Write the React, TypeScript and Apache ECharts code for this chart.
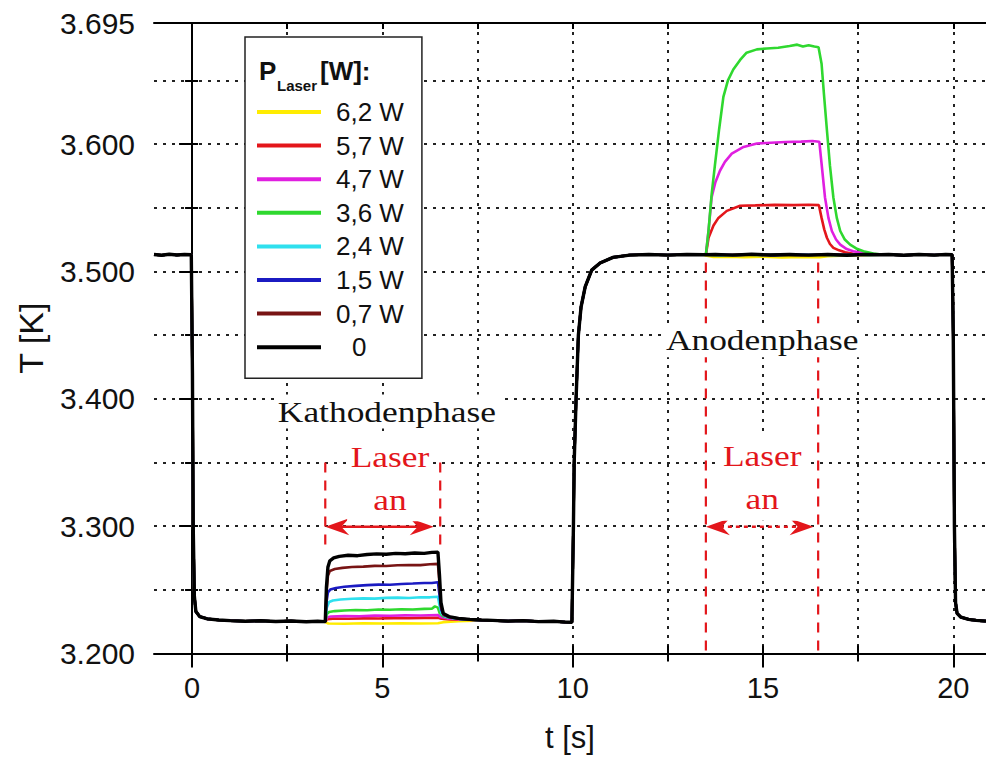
import React, { useEffect, useRef } from 'react';
import * as echarts from 'echarts';

type P = [number, number];

const seriesNames = ['6,2 W', '5,7 W', '4,7 W', '3,6 W', '2,4 W', '1,5 W', '0,7 W', '0'];
const seriesColors = ['#ffec00', '#e3161b', '#e01fe0', '#2fd82f', '#2fe0ee', '#1b1bc2', '#781414', '#000000'];

const xTickValues = [0, 2.5, 5, 7.5, 10, 12.5, 15, 17.5, 20];
const xLabelValues = [0, 5, 10, 15, 20];
const yLabelValues = [3200, 3300, 3400, 3500, 3600, 3695];
const yMajorTickValues = [3200, 3300, 3400, 3500, 3600];

// common trace (all powers overlap)
const commonStart: P[] = [[-1, 3513.2], [-0.8, 3512.7], [-0.6, 3513.4], [-0.4, 3512.9], [-0.2, 3513.3], [-0.02, 3513], [0.01, 3420], [0.03, 3300], [0.06, 3245], [0.1, 3233], [0.2, 3229], [0.4, 3227.2], [0.7, 3226.3], [1.0, 3225.8], [1.4, 3225.3], [1.8, 3225.7], [2.2, 3225.1], [2.6, 3225.5], [3.0, 3224.9], [3.3, 3225.3], [3.48, 3225]];
const commonMid: P[] = [[7.9, 3226], [8.3, 3225.4], [8.7, 3225.8], [9.1, 3225], [9.5, 3225.3], [9.8, 3224.6], [9.98, 3224.5], [10.02, 3300], [10.04, 3350], [10.09, 3400], [10.15, 3450], [10.22, 3472], [10.33, 3488], [10.5, 3501], [10.72, 3506.6], [11.06, 3511], [11.5, 3512.8], [12.0, 3513.3], [12.5, 3512.8], [13.0, 3513.2], [13.45, 3513]];
const commonEnd: P[] = [[18.3, 3513.2], [18.7, 3512.7], [19.1, 3513.3], [19.5, 3512.8], [19.8, 3513.3], [19.97, 3513], [20.0, 3450], [20.03, 3300], [20.06, 3240], [20.1, 3231.5], [20.2, 3228.5], [20.4, 3226.8], [20.6, 3226], [20.86, 3225.4]];

// cathode phase (laser on 3.5 s – 6.5 s)
const cathodeYellow: P[] = [[3.5, 3224.6], [3.58, 3223.6], [4.0, 3223.4], [4.5, 3223.7], [5.0, 3223.5], [5.5, 3223.8], [6.0, 3223.6], [6.46, 3223.8], [6.6, 3224.6], [7.0, 3225.4], [7.6, 3226]];
const cathodeRed: P[] = [[3.5, 3225], [3.55, 3227], [3.7, 3227.4], [4.1, 3227.3], [4.5, 3227.6], [4.9, 3227.5], [5.3, 3227.8], [5.7, 3227.7], [6.1, 3228], [6.46, 3228.1], [6.55, 3227.3], [6.8, 3226.8], [7.2, 3226.5], [7.6, 3226.2]];
const cathodeMagenta: P[] = [[3.5, 3225], [3.55, 3228.5], [3.65, 3229.1], [4.0, 3229.4], [4.4, 3229.3], [4.8, 3229.7], [5.2, 3229.6], [5.6, 3229.9], [6.0, 3229.8], [6.46, 3230.2], [6.52, 3228.6], [6.7, 3227.6], [7.0, 3227], [7.3, 3226.5], [7.6, 3226.2]];
const cathodeGreen: P[] = [[3.5, 3225], [3.54, 3231], [3.6, 3232.6], [3.75, 3233.3], [4.0, 3233.8], [4.3, 3234.2], [4.6, 3234], [4.9, 3234.5], [5.2, 3234.3], [5.5, 3234.7], [5.8, 3234.6], [6.1, 3235], [6.3, 3235.2], [6.38, 3237], [6.46, 3236], [6.5, 3232], [6.58, 3229.5], [6.7, 3228.4], [6.9, 3227.6], [7.2, 3226.8], [7.6, 3226.2]];
const cathodeCyan: P[] = [[3.5, 3225], [3.54, 3236], [3.6, 3240.5], [3.7, 3241.6], [3.9, 3242.4], [4.2, 3243], [4.5, 3243.3], [4.8, 3243.1], [5.1, 3243.7], [5.4, 3243.9], [5.7, 3243.6], [6.0, 3244.2], [6.25, 3244.1], [6.46, 3244.6], [6.5, 3238], [6.56, 3231], [6.65, 3229], [6.85, 3227.8], [7.1, 3227], [7.35, 3226.5], [7.6, 3226.1]];
const cathodeBlue: P[] = [[3.5, 3225], [3.53, 3240], [3.57, 3248], [3.63, 3250.2], [3.78, 3251.4], [4.0, 3252.4], [4.3, 3253.1], [4.6, 3253.7], [4.9, 3254.1], [5.2, 3254], [5.5, 3254.6], [5.8, 3254.9], [6.1, 3255.4], [6.3, 3255.3], [6.46, 3256], [6.5, 3246], [6.55, 3234], [6.62, 3230], [6.8, 3228.2], [7.05, 3227.2], [7.3, 3226.6], [7.6, 3226.2]];
const cathodeDarkRed: P[] = [[3.5, 3225], [3.53, 3247], [3.57, 3261], [3.62, 3264.8], [3.75, 3266.3], [3.95, 3267.2], [4.2, 3267.9], [4.5, 3268.2], [4.8, 3268.8], [5.1, 3268.7], [5.4, 3269.3], [5.7, 3269.5], [6.0, 3269.4], [6.25, 3270.1], [6.46, 3270.4], [6.5, 3255], [6.54, 3237], [6.6, 3230.5], [6.75, 3228.6], [7.0, 3227.4], [7.3, 3226.7], [7.6, 3226.2]];
const cathodeBlack: P[] = [[3.5, 3225], [3.53, 3252], [3.57, 3268], [3.62, 3272.8], [3.72, 3275], [3.87, 3276.3], [4.1, 3277.1], [4.35, 3276.8], [4.6, 3277.7], [4.85, 3278.2], [5.1, 3277.9], [5.35, 3278.6], [5.6, 3278.3], [5.85, 3278.9], [6.1, 3278.6], [6.3, 3279.4], [6.46, 3279.6], [6.5, 3262], [6.54, 3240], [6.6, 3231.5], [6.75, 3229], [7.0, 3227.6], [7.3, 3226.8], [7.6, 3226.3]];

// anode phase (laser on 13.5 s – 16.5 s)
const anodeYellow: P[] = [[13.5, 3512.5], [13.7, 3511.3], [14.1, 3511.6], [14.5, 3511.1], [15.0, 3511.5], [15.5, 3511], [16.0, 3511.4], [16.5, 3511.2], [16.7, 3512], [17.2, 3512.6], [18.1, 3513]];
const anodeRed: P[] = [[13.5, 3513], [13.57, 3526.4], [13.7, 3536], [13.83, 3542], [14.05, 3547.5], [14.4, 3551.5], [14.8, 3551.8], [15.3, 3552.2], [15.8, 3552], [16.2, 3552.3], [16.47, 3552], [16.54, 3542], [16.61, 3533], [16.68, 3526.4], [16.76, 3521.5], [16.85, 3518.5], [17.0, 3516.5], [17.16, 3515], [17.37, 3513.8], [17.6, 3513.2], [18.1, 3513]];
const anodeMagenta: P[] = [[13.5, 3513], [13.57, 3532], [13.65, 3558], [13.75, 3570], [13.87, 3579], [14.0, 3586], [14.18, 3592.5], [14.49, 3597.7], [14.84, 3600.4], [15.2, 3601], [15.6, 3601.6], [16.0, 3601.9], [16.3, 3602.3], [16.48, 3601.8], [16.54, 3584.5], [16.63, 3558], [16.72, 3542], [16.81, 3531.7], [16.92, 3525], [17.03, 3521], [17.2, 3517.5], [17.37, 3515.8], [17.72, 3514], [18.1, 3513.1]];
const anodeGreen: P[] = [[13.5, 3513], [13.57, 3532], [13.65, 3560], [13.74, 3584], [13.85, 3612], [13.96, 3637], [14.08, 3650], [14.22, 3658.5], [14.4, 3666], [14.57, 3671.7], [14.84, 3674.3], [15.1, 3675], [15.4, 3675.6], [15.7, 3677], [15.9, 3678], [16.05, 3676.5], [16.2, 3677.5], [16.35, 3676.5], [16.46, 3676], [16.54, 3663], [16.6, 3640], [16.68, 3611], [16.76, 3583], [16.85, 3558], [16.94, 3542], [17.03, 3531.7], [17.15, 3525], [17.29, 3521], [17.45, 3518], [17.64, 3515.8], [17.9, 3514], [18.1, 3513.3]];
const anodeCyan: P[] = [[13.5, 3513], [13.9, 3512.6], [14.4, 3513.3], [14.9, 3512.8], [15.4, 3513.4], [15.9, 3512.9], [16.4, 3513.3], [16.9, 3512.7], [17.4, 3513.2], [17.8, 3512.9], [18.1, 3513.1]];
const anodeBlue: P[] = [[13.5, 3513], [13.8, 3513.4], [14.3, 3512.7], [14.8, 3513.2], [15.3, 3512.6], [15.8, 3513.3], [16.3, 3512.8], [16.8, 3513.3], [17.3, 3512.8], [17.8, 3513.2], [18.1, 3513]];
const anodeDarkRed: P[] = [[13.5, 3513], [14.0, 3512.8], [14.5, 3513.4], [15.0, 3512.9], [15.5, 3513.2], [16.0, 3512.7], [16.5, 3513.3], [17.0, 3512.9], [17.5, 3513.3], [18.1, 3513]];
const anodeBlack: P[] = [[13.5, 3513], [13.75, 3513.3], [14.2, 3512.8], [14.7, 3513.4], [15.2, 3512.9], [15.7, 3513.3], [16.2, 3512.8], [16.7, 3513.2], [17.2, 3512.7], [17.7, 3513.2], [18.1, 3513]];

const cathodeSegments = [cathodeYellow, cathodeRed, cathodeMagenta, cathodeGreen, cathodeCyan, cathodeBlue, cathodeDarkRed, cathodeBlack];
const anodeSegments = [anodeYellow, anodeRed, anodeMagenta, anodeGreen, anodeCyan, anodeBlue, anodeDarkRed, anodeBlack];

const SANS = '"Liberation Sans", Arial, sans-serif';
const SERIF = '"Liberation Serif", "Times New Roman", serif';
const RED = '#e3161b';

export default function App() {
  const ref = useRef<HTMLDivElement>(null);
  useEffect(() => {
    document.body.style.margin = '0';
    if (!ref.current) return;
    const chart = echarts.init(ref.current, null, { renderer: 'svg' });
    const gridBox = { left: 154, right: 0, top: 23, bottom: 106.5, containLabel: false, outerBoundsMode: 'none' };
    const xBase = { type: 'value', min: -1, max: 20.86 };
    const yBase = { type: 'value', min: 3200, max: 3695, interval: 50 };
    const dotted = { type: [3, 6], color: '#222', width: 2 };
    const series = seriesNames.map((name, i) => ({
      name,
      type: 'line',
      xAxisIndex: 0,
      yAxisIndex: 0,
      showSymbol: false,
      symbol: 'none',
      z: 3,
      itemStyle: { color: seriesColors[i] },
      lineStyle: { color: seriesColors[i], width: i === 7 ? 3.4 : 2.6 },
      data: ([] as P[]).concat(commonStart, cathodeSegments[i], commonMid, anodeSegments[i], commonEnd),
    }));
    const option: any = {
      animation: false,
      backgroundColor: '#ffffff',
      grid: [gridBox, gridBox, gridBox],
      xAxis: [
        {
          ...xBase, gridIndex: 0, position: 'bottom',
          axisLine: { lineStyle: { color: '#000', width: 2 } },
          axisTick: { customValues: xLabelValues, length: 14, lineStyle: { color: '#000', width: 2 } },
          axisLabel: { customValues: xLabelValues, margin: 20, fontSize: 29, fontFamily: SANS, color: '#111' },
          splitLine: { show: false },
          name: 't [s]', nameLocation: 'middle', nameGap: 68,
          nameTextStyle: { fontSize: 31, fontFamily: SANS, color: '#111' },
        },
        {
          ...xBase, gridIndex: 0, position: 'top',
          axisLine: { lineStyle: { color: '#000', width: 2 } },
          axisTick: { inside: true, customValues: xTickValues, length: 6, lineStyle: { color: '#000', width: 2 } },
          axisLabel: { show: false }, splitLine: { show: false },
        },
        {
          ...xBase, gridIndex: 1, position: 'bottom',
          axisLine: { show: false },
          axisTick: { customValues: xTickValues, length: 8, lineStyle: { color: '#000', width: 2 } },
          axisLabel: { show: false },
          splitLine: { show: true, lineStyle: dotted },
        },
        {
          ...xBase, gridIndex: 2, position: 'bottom',
          axisLine: { show: false },
          axisTick: { inside: true, customValues: xTickValues, length: 8, lineStyle: { color: '#000', width: 2 } },
          axisLabel: { show: false }, splitLine: { show: false },
        },
      ],
      yAxis: [
        {
          ...yBase, gridIndex: 0, position: 'left',
          axisLine: { lineStyle: { color: '#000', width: 2 } },
          axisTick: { length: 7, lineStyle: { color: '#000', width: 2 } },
          axisLabel: {
            customValues: yLabelValues, margin: 19, fontSize: 30, fontFamily: SANS, color: '#111',
            formatter: (v: number) => (v / 1000).toFixed(3),
          },
          splitLine: { show: true, lineStyle: dotted },
          name: 'T [K]', nameLocation: 'middle', nameGap: 106,
          nameTextStyle: { fontSize: 34, fontFamily: SANS, color: '#111' },
        },
        {
          ...yBase, gridIndex: 1, position: 'left',
          axisLine: { show: false },
          axisTick: { customValues: yMajorTickValues, length: 13, lineStyle: { color: '#000', width: 2 } },
          axisLabel: { show: false }, splitLine: { show: false },
        },
        {
          ...yBase, gridIndex: 2, position: 'left',
          axisLine: { show: false },
          axisTick: { inside: true, length: 6, lineStyle: { color: '#000', width: 2 } },
          axisLabel: { show: false }, splitLine: { show: false },
        },
      ],
      legend: {
        data: seriesNames,
        orient: 'vertical',
        left: 245, top: 37,
        itemWidth: 74, itemHeight: 4, itemGap: 7.6,
        icon: 'path://M0 0H64V4H0Z M74 2L74 2',
        padding: [62, 18, 18, 12],
        backgroundColor: '#fff', borderColor: '#222', borderWidth: 1.5, borderRadius: 0,
        selectedMode: false,
        z: 10,
        formatter: (n: string) => (n === '0' ? '{z|0}' : n),
        textStyle: {
          fontSize: 26, lineHeight: 26, fontFamily: SANS, color: '#111',
          rich: { z: { fontSize: 26, lineHeight: 26, fontFamily: SANS, color: '#111', padding: [0, 0, 0, 16] } },
        },
      },
      series,
    };
    chart.setOption(option);

    const px = (t: number, T: number) => chart.convertToPixel({ gridIndex: 0 }, [t, T]) as number[];
    const g: any[] = [];
    const vdash = (t: number, T1: number, T2: number) => {
      const a = px(t, T1), b = px(t, T2);
      g.push({ type: 'line', z: 50, shape: { x1: a[0], y1: a[1], x2: b[0], y2: b[1] }, style: { stroke: RED, lineWidth: 2.2, lineDash: [10, 8] } });
    };
    const arrow = (t1: number, t2: number, T: number, dashed: boolean) => {
      const a = px(t1, T), b = px(t2, T);
      const y = a[1];
      g.push({ type: 'line', z: 51, shape: { x1: a[0] + 14, y1: y, x2: b[0] - 14, y2: y }, style: { stroke: RED, lineWidth: 2.5, lineDash: dashed ? [4, 4] : null } });
      g.push({ type: 'polygon', z: 51, shape: { points: [[a[0], y], [a[0] + 24, y - 8.5], [a[0] + 16, y], [a[0] + 24, y + 8.5]] }, style: { fill: RED } });
      g.push({ type: 'polygon', z: 51, shape: { points: [[b[0], y], [b[0] - 24, y - 8.5], [b[0] - 16, y], [b[0] - 24, y + 8.5]] }, style: { fill: RED } });
    };
    const label = (t: number, T: number, text: string, color: string, lh: number) => {
      const p = px(t, T);
      g.push({
        type: 'text', z: 52, x: p[0], y: p[1], scaleX: 1.18,
        style: {
          text, fill: color, font: `30px ${SERIF}`, align: 'center', verticalAlign: 'middle',
          lineHeight: lh, backgroundColor: '#fff', padding: [0, 3],
        },
      });
    };
    // cathode phase
    vdash(3.5, 3350, 3284);
    vdash(6.52, 3350, 3284);
    label(5.12, 3390, 'Kathodenphase', '#111', 34);
    label(5.2, 3337.5, 'Laser\nan', RED, 43);
    arrow(3.5, 6.35, 3299.5, false);
    // anode phase
    vdash(13.5, 3507, 3200);
    vdash(16.45, 3507, 3200);
    label(14.98, 3446, 'Anodenphase', '#111', 34);
    label(14.98, 3338, 'Laser\nan', RED, 43);
    arrow(13.5, 16.33, 3299.5, true);
    // legend title
    g.push({ type: 'text', z: 60, x: 259, y: 71, style: { text: 'P', font: `bold 26px ${SANS}`, fill: '#111', verticalAlign: 'middle' } });
    g.push({ type: 'text', z: 60, x: 277, y: 85, style: { text: 'Laser', font: `bold 15px ${SANS}`, fill: '#111', verticalAlign: 'middle' } });
    g.push({ type: 'text', z: 60, x: 320, y: 71, style: { text: '[W]:', font: `bold 26px ${SANS}`, fill: '#111', verticalAlign: 'middle' } });
    chart.setOption({ graphic: g });
    return () => chart.dispose();
  }, []);
  return <div ref={ref} style={{ width: 986, height: 760 }} />;
}
